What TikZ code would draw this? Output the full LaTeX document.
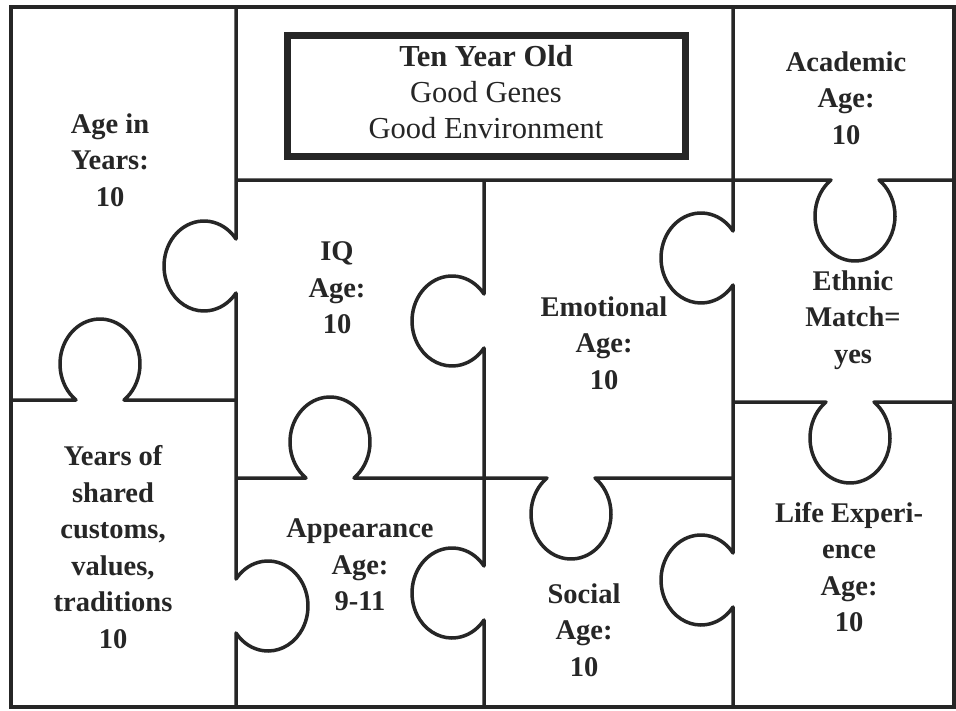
\documentclass[tikz,border=0pt]{standalone}
\usepackage{fontspec}
\setmainfont{Liberation Serif}
\tikzset{
  cut/.style={draw=black!85, line width=3.5pt, line join=round},
  frame/.style={draw=black!85, line width=4pt},
  titlebox/.style={draw=black!85, line width=7pt},
  lbl/.style={align=center, text=black!85, font=\fontsize{28.5}{36.5}\selectfont\bfseries},
  toplbl/.style={lbl, font=\fontsize{30.5}{36}\selectfont\bfseries},
}
\begin{document}
\begin{tikzpicture}[x=1pt,y=-1pt]
\pgfmathsetmacro\rx{40};
\pgfmathsetmacro\ry{45};
\pgfmathsetmacro\tb{acos(0.8)};
\useasboundingbox (0,0) rectangle (956,710);
\fill[white] (0,0) rectangle (956,710);
% outer frame
\draw[frame] (11,7) rectangle (954,707);
% vertical cuts
\draw[cut] (236,7) -- (236,239) arc[start angle=-\tb, end angle=-360+\tb, x radius=\rx, y radius=\ry]
  -- (236,579) arc[start angle=180+\tb, end angle=540-\tb, x radius=\rx, y radius=\ry] -- (236,707);
\draw[cut] (484,180) -- (484,294) arc[start angle=-\tb, end angle=-360+\tb, x radius=\rx, y radius=\ry]
  -- (484,566) arc[start angle=-\tb, end angle=-360+\tb, x radius=\rx, y radius=\ry] -- (484,707);
\draw[cut] (733,7) -- (733,231) arc[start angle=-\tb, end angle=-360+\tb, x radius=\rx, y radius=\ry]
  -- (733,553) arc[start angle=-\tb, end angle=-360+\tb, x radius=\rx, y radius=\ry] -- (733,707);
% horizontal cuts
\draw[cut] (236,180) -- (831,180) arc[start angle=-90-\tb, end angle=-450+\tb, x radius=\rx, y radius=\ry] -- (954,180);
\draw[cut] (11,400) -- (76,400) arc[start angle=90+\tb, end angle=450-\tb, x radius=\rx, y radius=\ry] -- (236,400);
\draw[cut] (236,478) -- (306,478) arc[start angle=90+\tb, end angle=450-\tb, x radius=\rx, y radius=\ry]
  -- (547,478) arc[start angle=-90-\tb, end angle=-450+\tb, x radius=\rx, y radius=\ry] -- (733,478);
\draw[cut] (733,402) -- (826,402) arc[start angle=-90-\tb, end angle=-450+\tb, x radius=\rx, y radius=\ry] -- (954,402);
% title
\draw[titlebox] (287,35.5) rectangle (685.5,156.5);
\node[toplbl] (title) at (486,92) {Ten Year Old\\\mdseries Good Genes\\\mdseries Good Environment};
% pieces
\node[lbl] (years) at (110,160) {Age in\\Years:\\10};
\node[lbl] (academic) at (846,98) {Academic\\Age:\\10};
\node[lbl] (iq) at (337,288) {IQ\\Age:\\10};
\node[lbl] (emotional) at (604,343) {Emotional\\Age:\\10};
\node[lbl] (ethnic) at (853,320) {Ethnic\\Match=\\yes};
\node[lbl] (customs) at (113,547) {Years of\\shared\\customs,\\values,\\traditions\\10};
\node[lbl] (appearance) at (360,565) {Appearance\\Age:\\9-11};
\node[lbl] (social) at (584,630) {Social\\Age:\\10};
\node[lbl] (life) at (849,567) {Life Experi-\\ence\\Age:\\10};
\end{tikzpicture}
\end{document}
